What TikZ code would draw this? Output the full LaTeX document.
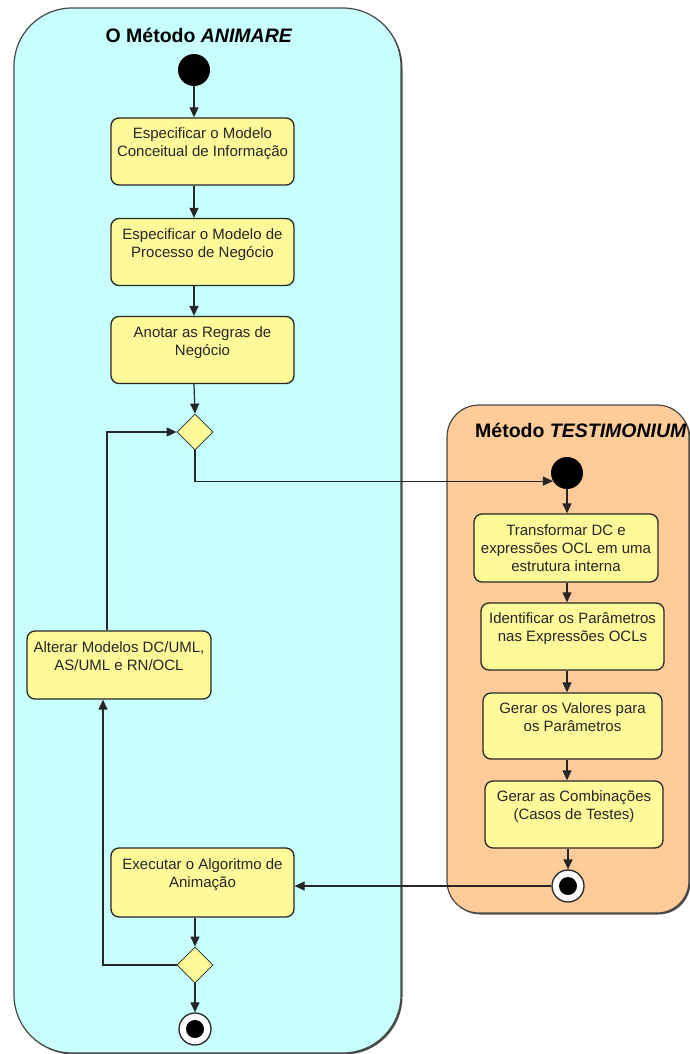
\documentclass[tikz,border=0pt]{standalone}
\usepackage{fontspec}
\setmainfont{Liberation Sans}
\usetikzlibrary{arrows.meta,shapes.geometric,shadows}

\definecolor{panelcyan}{HTML}{C8FFFF}
\definecolor{panelpeach}{HTML}{FFCC99}
\definecolor{actfill}{HTML}{FFFA99}
\definecolor{inkgray}{HTML}{262626}

\begin{document}
\begin{tikzpicture}[x=1pt,y=-1pt,
  panel/.style={draw=inkgray!85, line width=1.2pt,
    drop shadow={shadow xshift=1.5pt,shadow yshift=-1.5pt,fill=black!70,opacity=1}},
  activity/.style={draw=inkgray, line width=1.3pt, fill=actfill, rounded corners=8pt,
    minimum width=183pt, minimum height=67pt, align=center, inner sep=2pt,
    font=\fontsize{15}{18}\selectfont, text=inkgray},
  decision/.style={diamond, draw=inkgray, line width=0.8pt, fill=actfill,
    minimum width=36pt, minimum height=36pt, inner sep=0pt},
  initial/.style={circle, fill=black, minimum size=32pt, inner sep=0pt},
  final/.style={circle, draw=inkgray, line width=1.3pt, fill=white, minimum size=32pt,
    inner sep=0pt, path picture={\fill[black] (path picture bounding box.center) circle (9pt);}},
  flow/.style={draw=inkgray, line width=1.2pt, -{Triangle[length=10pt,width=9pt]}},
  paneltitle/.style={font=\fontsize{19.5}{22}\selectfont\bfseries, anchor=base, text=black}
]
\useasboundingbox (0,0) rectangle (690,1054);

% swimlane panels
\path[panel, fill=panelcyan, rounded corners=58pt] (14,8) rectangle (401,1053);
\path[panel, fill=panelpeach, rounded corners=32pt] (447,405) rectangle (689,913);
\node[paneltitle] (tanim) at (199,43) {O Método \textit{ANIMARE}};
\node[paneltitle] (ttest) at (581,437) {Método \textit{TESTIMONIUM}};

% ANIMARE flow
\node[initial] (s1) at (194,70) {};
\node[activity] (b1) at (202.5,151.5) {Especificar o Modelo\\Conceitual de Informação\\\mbox{}};
\node[activity] (b2) at (202.5,252) {Especificar o Modelo de\\Processo de Negócio\\\mbox{}};
\node[activity] (b3) at (202.5,350) {Anotar as Regras de\\Negócio\\\mbox{}};
\node[decision] (d1) at (195,432) {};
\node[activity, minimum width=184pt, minimum height=68pt] (alt) at (119,665) {Alterar Modelos DC/UML,\\AS/UML e RN/OCL\\\mbox{}};
\node[activity, minimum height=69pt] (ex) at (202.5,882.5) {Executar o Algoritmo de\\Animação\\\mbox{}};
\node[decision] (d2) at (195,965) {};
\node[final] (e1) at (195,1029) {};

% TESTIMONIUM flow
\node[initial] (s2) at (567,473) {};
\node[activity, minimum width=184pt, minimum height=68pt] (t1) at (566,548) {Transformar DC e\\expressões OCL em uma\\estrutura interna};
\node[activity] (t2) at (572.5,636.5) {Identificar os Parâmetros\\nas Expressões OCLs\\\mbox{}};
\node[activity, minimum width=179pt, minimum height=66pt] (t3) at (572.5,726) {Gerar os Valores para\\os Parâmetros\\\mbox{}};
\node[activity, minimum width=178pt] (t4) at (574,814.5) {Gerar as Combinações\\(Casos de Testes)\\\mbox{}};
\node[final] (e2) at (568,886) {};

% transitions
\draw[flow] (s1) -- (s1 |- b1.north);
\draw[flow] (b1.south -| s1) -- (b2.north -| s1);
\draw[flow] (b2.south -| s1) -- (b3.north -| s1);
\draw[flow] (b3.south -| s1) -- (d1.north);
\draw[flow] (d1.south) |- (s2.210);
\draw[flow] (s2) -- (s2 |- t1.north);
\draw[flow] (t1.south -| s2) -- (t2.north -| s2);
\draw[flow] (t2.south -| s2) -- (t3.north -| s2);
\draw[flow] (t3.south -| s2) -- (t4.north -| s2);
\draw[flow] (t4.south -| e2) -- (e2);
\draw[flow] (e2.west) -- (e2.west -| ex.east);
\draw[flow] (ex.south -| d2) -- (d2.north);
\draw[flow] (d2.south) -- (e1);
\draw[flow] (d2.west) -| ([xshift=-16pt]alt.south);
\draw[flow] ([xshift=-12pt]alt.north) |- (d1.west);
\end{tikzpicture}
\end{document}
